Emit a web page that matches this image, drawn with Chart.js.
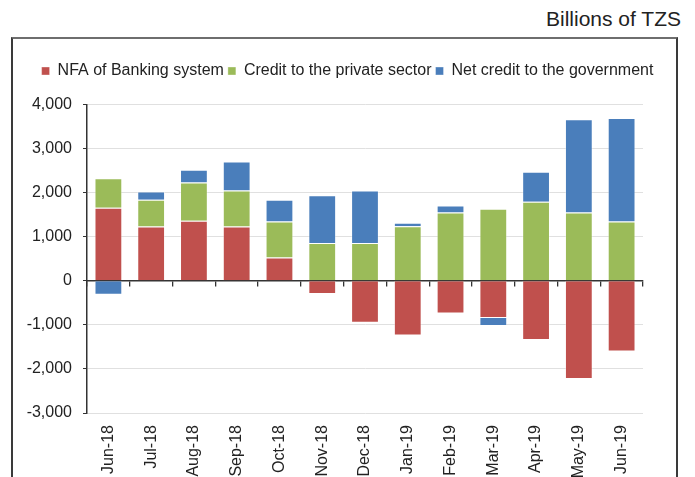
<!DOCTYPE html>
<html>
<head>
<meta charset="utf-8">
<script src="https://cdn.jsdelivr.net/npm/chart.js@4.4.1/dist/chart.umd.min.js"></script>
<style>
  html, body { margin: 0; padding: 0; background: #fff; }
  body { width: 695px; height: 477px; position: relative; overflow: hidden; font-family: "Liberation Sans", Arial, sans-serif; }
  #title { position: absolute; right: 14px; top: 7px; font-size: 21px; color: #222; white-space: nowrap; }
  #frame { position: absolute; left: 11px; top: 37px; width: 667px; height: 470px; border: 2px solid #3a3a3a; border-top-color: #6e6e6e; box-sizing: border-box; }
  #wrap { position: absolute; left: 0; top: 0; width: 695px; height: 477px; }
</style>
</head>
<body>
<div id="title">Billions of TZS</div>
<div id="frame"></div>
<div id="wrap"><canvas id="c" width="695" height="477"></canvas></div>
<script>
const categories = ["Jun-18","Jul-18","Aug-18","Sep-18","Oct-18","Nov-18","Dec-18","Jan-19","Feb-19","Mar-19","Apr-19","May-19","Jun-19"];
const nfaBanking = [1655, 1231, 1360, 1231, 528, -302, -952, -1240, -741, -846, -1345, -2229, -1603];
const creditPrivate = [674, 606, 869, 817, 817, 855, 855, 1240, 1549, 1633, 1791, 1549, 1345];
const netCreditGov = [-317, 188, 288, 657, 492, 1088, 1193, 75, 159, -182, 681, 2118, 2351];
const yTicks = [-3000, -2000, -1000, 0, 1000, 2000, 3000, 4000];

Chart.defaults.font.family = '"Liberation Sans", Arial, sans-serif';
Chart.defaults.font.size = 16;
Chart.defaults.color = '#222';

const edge = 'rgba(255,255,255,0.35)';
const chart = new Chart(document.getElementById('c'), {
  type: 'bar',
  data: {
    labels: categories,
    datasets: [
      { label: 'NFA of Banking system', data: nfaBanking, backgroundColor: '#C0504D', borderColor: edge, borderWidth: 1 },
      { label: 'Credit to the private sector', data: creditPrivate, backgroundColor: '#9BBB59', borderColor: edge, borderWidth: 1 },
      { label: 'Net credit to the government', data: netCreditGov, backgroundColor: '#4A7EBB', borderColor: edge, borderWidth: 1 }
    ]
  },
  options: {
    responsive: false,
    animation: false,
    layout: { padding: { left: 0, right: 0, top: 59, bottom: 0 } },
    datasets: { bar: { categoryPercentage: 1.0, barPercentage: 0.65 } },
    plugins: {
      legend: {
        position: 'top',
        labels: { boxWidth: 8, boxHeight: 8, padding: 4, color: '#222', font: { size: 16 } }
      },
      tooltip: { enabled: false }
    },
    scales: {
      x: {
        stacked: true,
        grid: { display: false, drawTicks: false },
        border: { display: false },
        ticks: { minRotation: 90, maxRotation: 90, padding: 12, color: '#222', autoSkip: false },
        afterFit: (s) => { s.height = 64; }
      },
      xTopGap: {
        type: 'category',
        labels: categories,
        position: 'top',
        grid: { display: false, drawTicks: false },
        border: { display: false },
        ticks: { display: false },
        afterFit: (s) => { s.height = 15.5; }
      },
      x2: {
        type: 'category',
        labels: categories,
        position: { y: 0 },
        offset: true,
        grid: { display: true, drawOnChartArea: false, offset: true, tickLength: 5, tickColor: '#333', lineWidth: 1.3 },
        border: { display: true, color: '#333', width: 1.5 },
        ticks: { display: false }
      },
      y: {
        stacked: true,
        min: -3000, max: 4000,
        afterBuildTicks: (s) => { s.ticks = yTicks.map(v => ({ value: v })); },
        grid: { color: '#e0e0e0', lineWidth: 1, tickLength: 4, tickColor: '#333' },
        border: { display: true, color: '#333', width: 1.5 },
        ticks: { padding: 11, color: '#222', callback: (v) => v.toLocaleString('en-US') },
        afterFit: (s) => { s.width = 87; }
      },
      yRightGap: {
        position: 'right',
        min: -3000, max: 4000,
        grid: { display: false, drawTicks: false },
        border: { display: false },
        ticks: { display: false },
        afterFit: (s) => { s.width = 52; }
      }
    }
  }
});
</script>
</body>
</html>
